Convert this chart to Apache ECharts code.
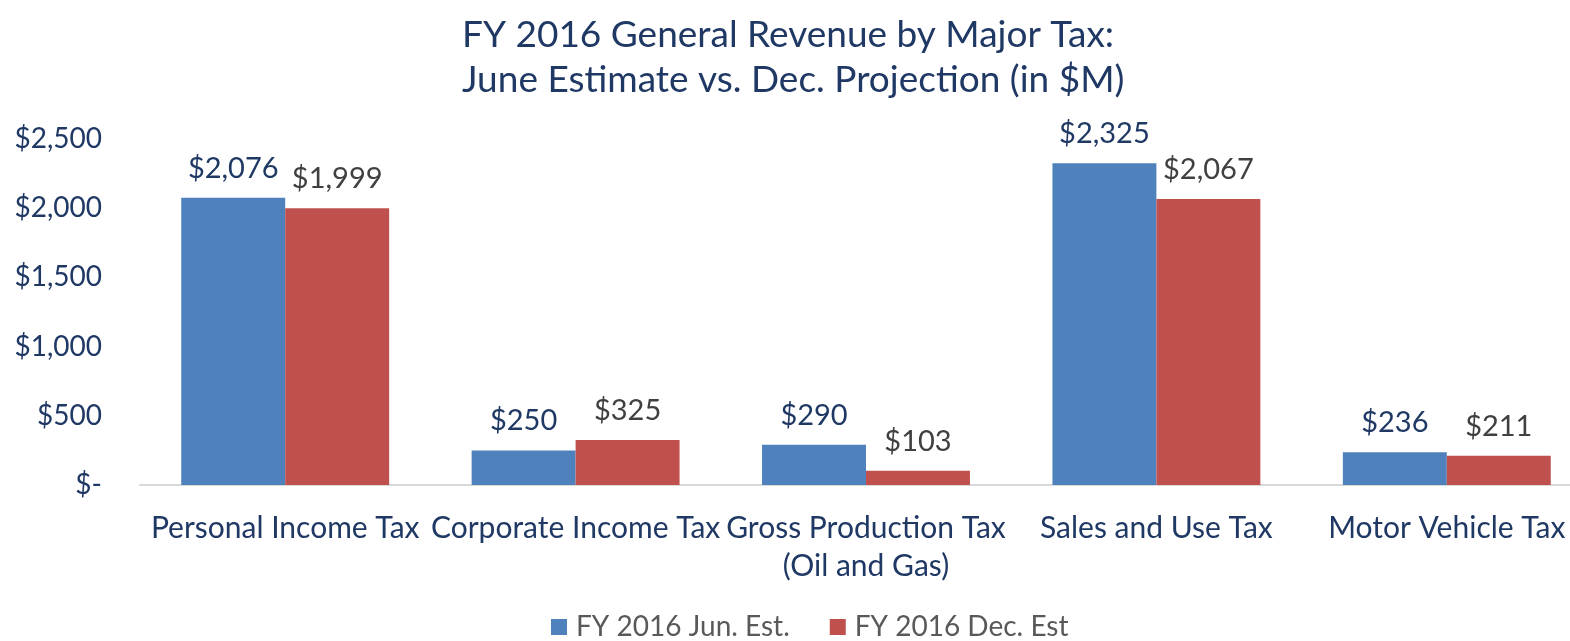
<!DOCTYPE html>
<html>
<head>
<meta charset="utf-8">
<script src="https://cdn.jsdelivr.net/npm/echarts@6/dist/echarts.min.js"></script>
<style>
  html, body { margin: 0; padding: 0; background: #fff; }
  #chart { width: 1570px; height: 641px; }
</style>
</head>
<body>
<div id="chart"></div>
<script>
// categories and values (in $M)
var categories = ['Personal Income Tax', 'Corporate Income Tax', 'Gross Production Tax\n(Oil and Gas)', 'Sales and Use Tax', 'Motor Vehicle Tax'];
var junEst = [2076, 250, 290, 2325, 236];
var decEst = [1999, 325, 103, 2067, 211];
var seriesNames = ['FY 2016 Jun. Est.', 'FY 2016 Dec. Est'];

var font = 'Lato, "Open Sans", sans-serif';

function money(v) {
  if (v === 0) return '$-';
  return '$' + v.toLocaleString('en-US');
}

var chart = echarts.init(document.getElementById('chart'));
chart.setOption({
  animation: false,
  title: {
    text: 'FY 2016 General Revenue by Major Tax:\nJune Estimate vs. Dec. Projection (in $M)',
    left: 462,
    top: 13,
    padding: 0,
    textStyle: {
      fontFamily: font,
      fontSize: 37,
      fontWeight: 'normal',
      color: '#1f3864',
      lineHeight: 45
    }
  },
  legend: {
    bottom: 0,
    left: 551,
    padding: 0,
    itemWidth: 16,
    itemHeight: 16,
    itemGap: 40,
    icon: 'rect',
    textStyle: { fontFamily: font, fontSize: 28, color: '#595959', padding: [0, 0, 0, 4] },
    data: seriesNames
  },
  // plot area runs a little past the right edge of the picture, as in the source
  grid: { left: 140, width: 1452, top: 139, bottom: 156, outerBoundsMode: 'none' },
  xAxis: {
    type: 'category',
    data: categories,
    axisLine: { lineStyle: { color: '#d9d9d9', width: 2 } },
    axisTick: { show: false },
    axisLabel: {
      interval: 0,
      margin: 24,
      fontFamily: font,
      fontSize: 30,
      color: '#1f3864',
      lineHeight: 38
    }
  },
  yAxis: {
    type: 'value',
    min: 0,
    max: 2500,
    interval: 500,
    splitLine: { show: false },
    axisLine: { show: false },
    axisTick: { show: false },
    axisLabel: {
      margin: 38,
      fontFamily: font,
      fontSize: 28,
      color: '#1f3864',
      formatter: money
    }
  },
  series: [{
    name: seriesNames[0],
    type: 'bar',
    data: junEst,
    barGap: '0%',
    barCategoryGap: '28.4%',
    itemStyle: { color: '#4f81bd' },
    label: {
      show: true,
      position: 'top',
      distance: 15,
      fontFamily: font,
      fontSize: 29,
      color: '#1f3864',
      formatter: function(p) { return money(p.value); }
    }
  }, {
    name: seriesNames[1],
    type: 'bar',
    data: decEst,
    itemStyle: { color: '#c0504d' },
    label: {
      show: true,
      position: 'top',
      distance: 15,
      fontFamily: font,
      fontSize: 29,
      color: '#404040',
      formatter: function(p) { return money(p.value); }
    }
  }]
});
</script>
</body>
</html>
